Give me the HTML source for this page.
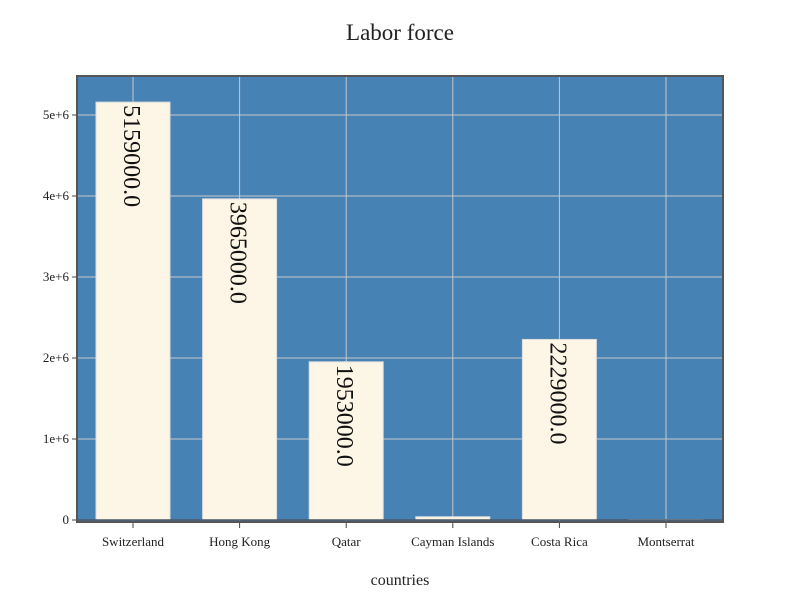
<!DOCTYPE html>
<html><head><meta charset="utf-8"><style>body{margin:0;background:#fff}svg{display:block}text{font-family:"Liberation Serif",serif}</style></head>
<body>
<svg id="chart" width="800" height="600">
<text x="400" y="40" text-anchor="middle" font-size="23" fill="#222">Labor force</text>
<rect x="77" y="76" width="646" height="446" fill="#4682b4"/>
<g id="grid"></g><g id="bars"></g><g id="axes"></g>
<rect x="77" y="76" width="646" height="446" fill="none" stroke="#555" stroke-width="2"/>
<text x="400" y="585" text-anchor="middle" font-size="16" fill="#222">countries</text>
</svg>
<script>
const categories=["Switzerland","Hong Kong","Qatar","Cayman Islands","Costa Rica","Montserrat"];
const values=[5159000,3965000,1953000,40000,2229000,5000];
const labels=["5159000.0","3965000.0","1953000.0","","2229000.0",""];
const yTicks=[0,1e6,2e6,3e6,4e6,5e6];
const yTickLabels=["0","1e+6","2e+6","3e+6","4e+6","5e+6"];
const NS="http://www.w3.org/2000/svg";
function y(v){return 520-v*81/1e6;}
function x(i){return 133+i*106.6;}
function mk(t,a,p){const e=document.createElementNS(NS,t);for(const k in a)e.setAttribute(k,a[k]);p.appendChild(e);return e;}
const g=document.getElementById('grid'),b=document.getElementById('bars'),ax=document.getElementById('axes');
yTicks.forEach((t,i)=>{
 const l=mk('line',{x1:77,x2:723,y1:y(t),y2:y(t),stroke:'#c8c8c8','stroke-width':1},g);
 
 
 mk('line',{x1:72,x2:77,y1:y(t),y2:y(t),stroke:'#444'},ax);
 const tx=mk('text',{x:69,y:y(t)+4,'text-anchor':'end','font-size':13,fill:'#222'},ax);
 tx.textContent=yTickLabels[i];
 
 
});
categories.forEach((c,i)=>{
 const l=mk('line',{x1:x(i),x2:x(i),y1:76,y2:522,stroke:'#c8c8c8','stroke-width':1},g);
 
 
 const r=mk('rect',{x:x(i)-37,y:y(values[i]),width:74,height:520-y(values[i]),fill:'#fdf5e6',stroke:'#ddd','stroke-width':1},b);
 
 
 if(labels[i]){
  const t=mk('text',{transform:`translate(${x(i)-9},${y(values[i])+3}) rotate(90)`,'font-size':24,fill:'#111'},b);
  t.textContent=labels[i];
  
  
 }
 mk('line',{x1:x(i),x2:x(i),y1:522,y2:528,stroke:'#444'},ax);
 const tx=mk('text',{x:x(i),y:546,'text-anchor':'middle','font-size':13,fill:'#222'},ax);
 tx.textContent=c;
 
 
});
const z=mk('line',{x1:77,x2:723,y1:520,y2:520,stroke:'#4a5866','stroke-width':1.5},ax);


</script>
</body></html>
